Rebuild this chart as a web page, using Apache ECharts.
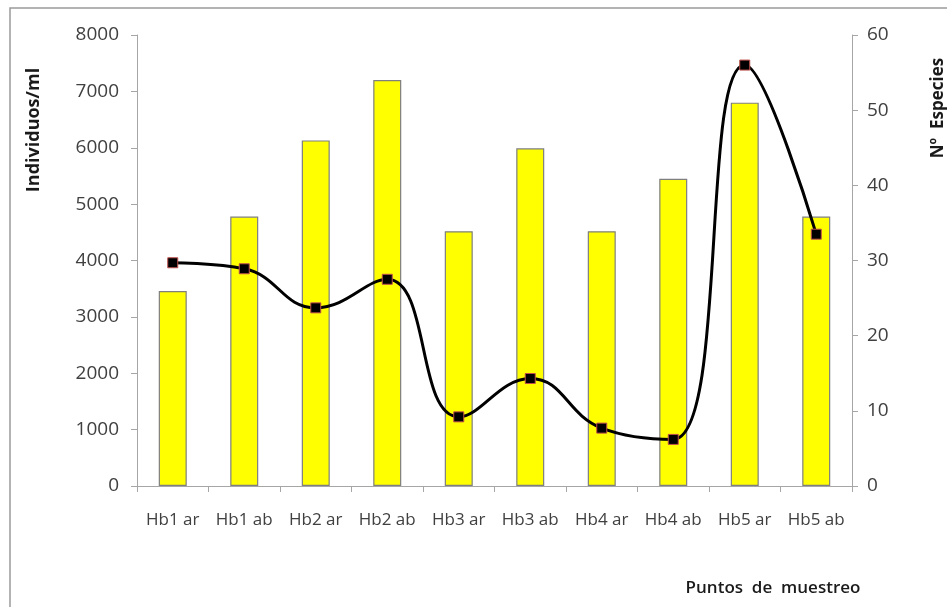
<!DOCTYPE html>
<html><head><meta charset="utf-8">
<script src="https://cdn.jsdelivr.net/npm/echarts@6/dist/echarts.min.js"></script>
<style>html,body{margin:0;padding:0;background:#fff}#c{width:947px;height:607px}</style>
</head><body><div id="c"></div>
<script>
const categories = ["Hb1 ar","Hb1 ab","Hb2 ar","Hb2 ab","Hb3 ar","Hb3 ab","Hb4 ar","Hb4 ab","Hb5 ar","Hb5 ab"];
const individuos = [3460, 4780, 6130, 7200, 4520, 5990, 4520, 5450, 6800, 4780];
const especies = [29.7, 28.9, 23.7, 27.5, 9.2, 14.3, 7.7, 6.2, 56, 33.5];
const leftTicks = [0, 8000, 1000];
const rightTicks = [0, 60, 10];

const font = "'Open Sans', 'Noto Sans', sans-serif";
const chart = echarts.init(document.getElementById('c'));
chart.setOption({
  animation: false,
  backgroundColor: '#fff',
  grid: { left: 137, right: 95, top: 35, bottom: 121, containLabel: false },
  graphic: [
    { type: 'rect', shape: { x: 10, y: 8, width: 960, height: 620 }, style: { fill: 'none', stroke: '#9a9a9a', lineWidth: 1.5 }, silent: true },
    { type: 'text', x: 34, y: 130, rotation: Math.PI / 2, style: { text: 'Individuos/ml', font: 'bold 18px ' + font, fill: '#1a1a1a', textAlign: 'center', textVerticalAlign: 'middle' } },
    { type: 'text', x: 938, y: 108, rotation: Math.PI / 2, style: { text: 'Nº  Especies', font: 'bold 17px ' + font, fill: '#1a1a1a', textAlign: 'center', textVerticalAlign: 'middle' } },
    { type: 'text', x: 773, y: 588, style: { text: 'Puntos  de  muestreo', font: '600 17px ' + font, fill: '#1a1a1a', textAlign: 'center', textVerticalAlign: 'middle' } }
  ],
  xAxis: {
    type: 'category', data: categories,
    axisLine: { lineStyle: { color: '#a6a6a6', width: 1 } },
    axisTick: { show: true, alignWithLabel: false, length: 6, lineStyle: { color: '#a6a6a6' } },
    axisLabel: { color: '#404040', fontSize: 17, fontFamily: font, margin: 26, interval: 0 },
    splitLine: { show: false }
  },
  yAxis: [
    { type: 'value', min: leftTicks[0], max: leftTicks[1], interval: leftTicks[2], position: 'left',
      axisLine: { show: true, lineStyle: { color: '#a6a6a6' } },
      axisTick: { show: true, length: 6, lineStyle: { color: '#a6a6a6' } },
      axisLabel: { color: '#404040', fontSize: 19, fontFamily: font, margin: 18, formatter: v => String(v) },
      splitLine: { show: false } },
    { type: 'value', min: rightTicks[0], max: rightTicks[1], interval: rightTicks[2], position: 'right',
      axisLine: { show: true, lineStyle: { color: '#a6a6a6' } },
      axisTick: { show: true, length: 6, lineStyle: { color: '#a6a6a6' } },
      axisLabel: { color: '#404040', fontSize: 19, fontFamily: font, margin: 15, formatter: v => String(v) },
      splitLine: { show: false } }
  ],
  series: [
    { type: 'bar', name: 'Individuos/ml', data: individuos, yAxisIndex: 0, barWidth: 28,
      itemStyle: { color: '#ffff00', borderColor: '#7f7f7f', borderWidth: 1.2 } },
    { type: 'line', name: 'Nº Especies', data: especies, yAxisIndex: 1, smooth: 0.45,
      lineStyle: { color: '#000', width: 3 },
      symbol: 'rect', symbolSize: 10,
      itemStyle: { color: '#000', borderColor: '#c0504d', borderWidth: 1 } }
  ]
});
</script></body></html>
